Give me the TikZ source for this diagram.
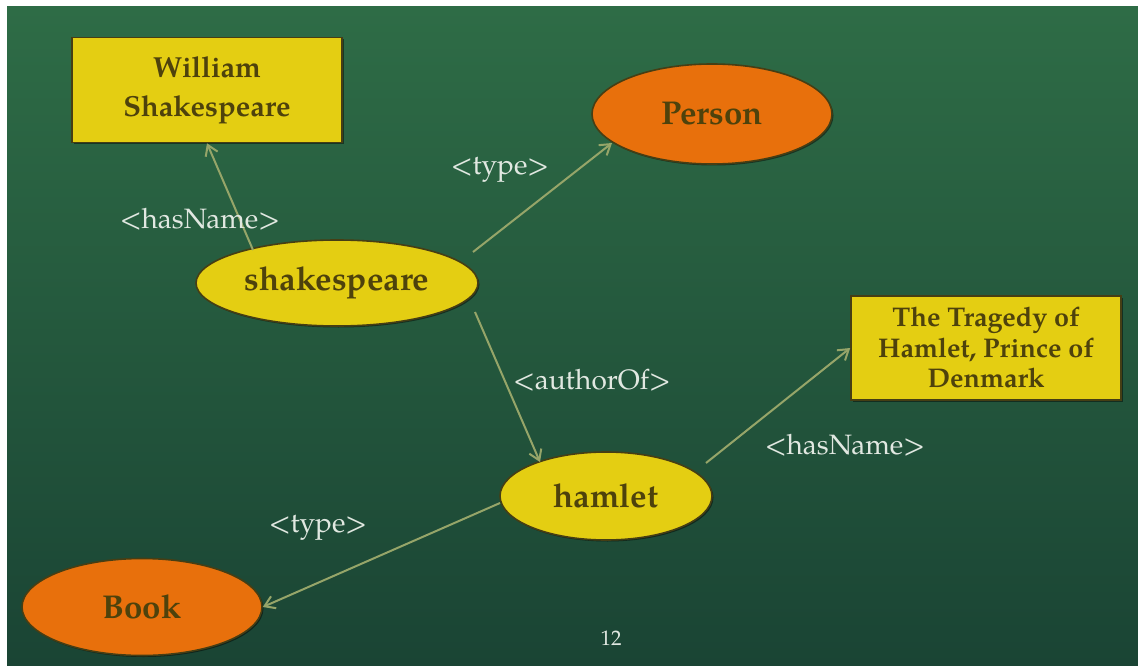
\documentclass[tikz,border=0pt]{standalone}
\usepackage{fontspec}
\setmainfont{TeX Gyre Pagella}
\usetikzlibrary{shapes.geometric,arrows.meta,shadows}
\definecolor{bgtop}{RGB}{46,108,70}
\definecolor{bgbot}{RGB}{26,68,52}
\definecolor{yel}{RGB}{228,206,18}
\definecolor{org}{RGB}{232,112,12}
\definecolor{ink}{RGB}{78,66,12}
\definecolor{rim}{RGB}{70,62,20}
\definecolor{arr}{RGB}{150,165,105}
\definecolor{lab}{RGB}{225,232,225}
\tikzset{
  base/.style={draw=rim, line width=1.6pt, text=ink, font=\fontsize{33}{36}\selectfont\bfseries, inner sep=0pt, align=center,
    drop shadow={shadow xshift=1.5pt, shadow yshift=-1.5pt, fill=black, opacity=0.45}},
  ybox/.style={base, rectangle, fill=yel},
  yell/.style={base, ellipse, fill=yel},
  oell/.style={base, ellipse, fill=org},
  link/.style={draw=arr, line width=2pt, -{Straight Barb[length=10pt,width=13pt,line width=2pt]}},
  lbl/.style={text=lab, font=\fontsize{28}{31}\selectfont, inner sep=0pt}
}
\begin{document}
\begin{tikzpicture}[x=1pt,y=-1pt]
\useasboundingbox (0,0) rectangle (1138,666);
\fill[white] (0,0) rectangle (1138,666);
\shade[top color=bgtop, bottom color=bgbot] (7,7) rectangle (1138,666);
% nodes
\node[ybox, minimum width=270pt, minimum height=105pt, font=\fontsize{29}{39}\selectfont\bfseries] (will) at (207,90) {William\\Shakespeare};
\node[oell, minimum width=240pt, minimum height=100pt] (person) at (712,114) {Person};
\node[yell, minimum width=282pt, minimum height=86pt] (shak) at (337,283) {shakespeare};
\node[ybox, minimum width=270pt, minimum height=104pt, font=\fontsize{27}{30.5}\selectfont\bfseries] (trag) at (986,348) {The Tragedy of\\Hamlet, Prince of\\Denmark};
\node[yell, minimum width=212pt, minimum height=88pt] (ham) at (606,496) {hamlet};
\node[oell, minimum width=240pt, minimum height=97pt] (book) at (142,607) {Book};
% connectors
\coordinate (s1) at (253,250);
\coordinate (s2) at (473,252);
\coordinate (s3) at (475,312);
\coordinate (h1) at (706,463);
\coordinate (h2) at (500,503);
\draw[link] (s1) -- (will.south);
\draw[link] (s2) -- (612,143) coordinate (pe);
\draw[link] (s3) -- (540,462);
\draw[link] (h1) -- (trag.west);
\draw[link] (h2) -- (book.east);
% labels
\node[lbl] (l1) at (200,219) {<hasName>};
\node[lbl] (l2) at (500,170) {<type>};
\node[lbl] (l3) at (592,380) {<authorOf>};
\node[lbl] (l4) at (845,445) {<hasName>};
\node[lbl] (l5) at (318,528) {<type>};
\node[text=lab, font=\fontsize{21}{24}\selectfont, inner sep=0pt] (pg) at (611,638) {12};
\end{tikzpicture}
\end{document}
